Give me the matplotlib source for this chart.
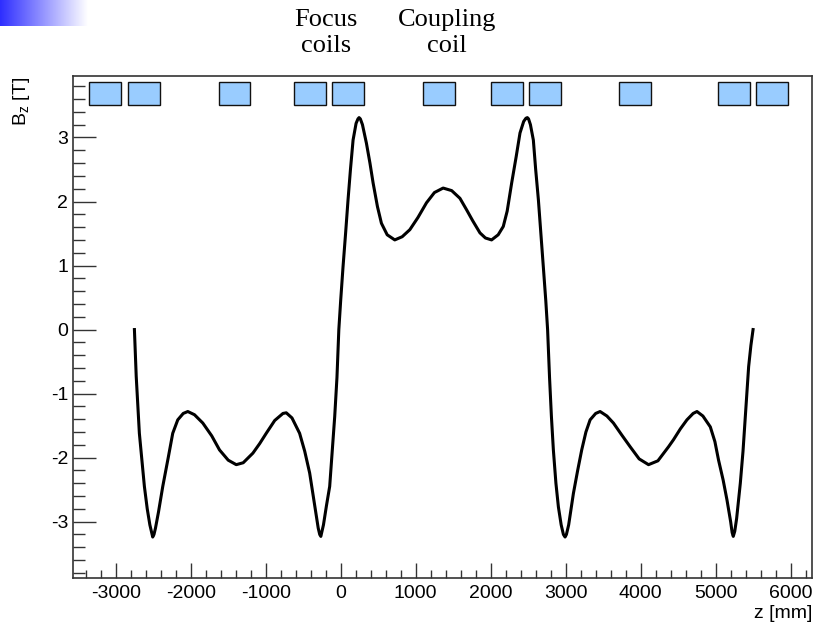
import numpy as np
import matplotlib
matplotlib.use('Agg')
import matplotlib.pyplot as plt
from matplotlib.patches import Rectangle
from matplotlib.ticker import MultipleLocator

plt.rcParams['font.family'] = ['Liberation Sans', 'DejaVu Sans']
plt.rcParams['mathtext.fontset'] = 'custom'
plt.rcParams['mathtext.rm'] = 'Liberation Sans'
plt.rcParams['mathtext.it'] = 'Liberation Sans'
plt.rcParams['axes.unicode_minus'] = False

# field on axis (z in mm, Bz in T)
z_mm = [-2751, -2740, -2727, -2705, -2685, -2650, -2618, -2580, -2545, -2520,
        -2507, -2490, -2470, -2430, -2373, -2300, -2240, -2173, -2100, -2039,
        -1950, -1839, -1720, -1616, -1500, -1393, -1300, -1171, -1080, -993,
        -880, -770, -726, -650, -548, -480, -414, -340, -300, -280,
        -265, -230, -190, -147, -110, -80, -50, -25, 0, 31,
        65, 98, 130, 165, 205, 230, 245, 262, 290, 343,
        390, 432, 490, 543, 620, 721, 820, 922, 1030, 1144,
        1250, 1366, 1480, 1590, 1679, 1760, 1857, 1930, 2012, 2100,
        2168, 2220, 2280, 2340, 2391, 2440, 2470, 2489, 2505, 2530,
        2569, 2600, 2636, 2670, 2702, 2735, 2759, 2785, 2810, 2836,
        2870, 2903, 2940, 2970, 2992, 3010, 3040, 3103, 3160, 3214,
        3270, 3326, 3400, 3459, 3550, 3637, 3750, 3860, 3980, 4105,
        4230, 4372, 4438, 4530, 4617, 4700, 4751, 4830, 4929, 4990,
        5039, 5100, 5151, 5200, 5220, 5235, 5255, 5280, 5329, 5365,
        5396, 5420, 5440, 5470, 5499]
bz_t = [0.0, -0.35, -0.73, -1.2, -1.62, -2.05, -2.45, -2.8, -3.05, -3.18,
        -3.24, -3.2, -3.1, -2.85, -2.45, -2.0, -1.62, -1.41, -1.31, -1.28,
        -1.33, -1.46, -1.66, -1.88, -2.04, -2.11, -2.08, -1.93, -1.78, -1.62,
        -1.42, -1.31, -1.30, -1.38, -1.62, -1.90, -2.24, -2.80, -3.1, -3.2,
        -3.23, -3.05, -2.75, -2.45, -1.85, -1.36, -0.75, 0.0, 0.46, 0.98,
        1.5, 2.03, 2.5, 2.96, 3.22, 3.29, 3.31, 3.29, 3.2, 2.91,
        2.6, 2.29, 1.92, 1.66, 1.48, 1.40, 1.45, 1.56, 1.75, 1.98,
        2.14, 2.21, 2.17, 2.05, 1.87, 1.70, 1.51, 1.43, 1.40, 1.48,
        1.61, 1.85, 2.29, 2.7, 3.07, 3.25, 3.30, 3.31, 3.29, 3.2,
        2.96, 2.5, 2.03, 1.5, 0.98, 0.45, 0.0, -0.75, -1.36, -1.88,
        -2.4, -2.77, -3.05, -3.2, -3.24, -3.2, -3.05, -2.56, -2.2, -1.88,
        -1.6, -1.41, -1.31, -1.28, -1.35, -1.46, -1.65, -1.83, -2.02, -2.11,
        -2.05, -1.83, -1.72, -1.55, -1.41, -1.31, -1.28, -1.35, -1.52, -1.75,
        -2.04, -2.35, -2.66, -3.0, -3.17, -3.23, -3.15, -2.95, -2.40, -1.9,
        -1.36, -0.95, -0.58, -0.25, 0.0]

# coil blocks drawn along the top (z start / end in mm)
coil_start = [-3352, -2841, -1629, -624, -116, 1099, 2000, 2511, 3717, 5031, 5534]
coil_end = [-2925, -2414, -1215, -197, 311, 1520, 2427, 2938, 4144, 5458, 5961]
coil_bottom, coil_top = 3.51, 3.866

fig = plt.figure(figsize=(8.17, 6.22), dpi=100)

# blue fade in the top left corner
grad = fig.add_axes([0, 1 - 26 / 622, 88 / 817, 26 / 622])
ramp = np.linspace(0, 1, 200)
rgb = np.zeros((2, 200, 3))
rgb[..., 0] = 0.18 + 0.82 * ramp
rgb[..., 1] = 0.18 + 0.82 * ramp
rgb[..., 2] = 1.0
grad.imshow(rgb, aspect='auto', interpolation='bilinear')
grad.axis('off')

ax = fig.add_axes([73 / 817, 1 - 578 / 622, (812 - 73) / 817, (578 - 76) / 622])
ax.plot(z_mm, bz_t, color='black', lw=2.2, solid_joinstyle='round')

for s, e in zip(coil_start, coil_end):
    ax.add_patch(Rectangle((s, coil_bottom), e - s, coil_top - coil_bottom,
                           facecolor='#99ccff', edgecolor='#111111', lw=1.0, zorder=3))

ax.set_xlim(-3570, 6285)
ax.set_ylim(-3.88, 3.96)
ax.xaxis.set_major_locator(MultipleLocator(1000))
ax.xaxis.set_minor_locator(MultipleLocator(200))
ax.yaxis.set_major_locator(MultipleLocator(1))
ax.yaxis.set_minor_locator(MultipleLocator(0.2))
ax.tick_params(axis='both', which='both', direction='in', top=False, right=False,
               labelsize=14, color='#333333', width=1.0)
ax.tick_params(axis='x', which='major', length=11, pad=5)
ax.tick_params(axis='x', which='minor', length=6)
ax.tick_params(axis='y', which='major', length=16.5, pad=3.5)
ax.tick_params(axis='y', which='minor', length=8.5)
for sp in ax.spines.values():
    sp.set_color('#333333')
    sp.set_linewidth(1.2)

fig.text(812 / 817, 1 - 613 / 622, 'z [mm]', ha='right', va='center', fontsize=14)
fig.text(21 / 817, 1 - 77 / 622, 'B$_z$ [T]', ha='center', va='top', rotation=90, fontsize=14)

fig.text(326 / 817, 1 - 33 / 622, 'Focus\ncoils', ha='center', va='center',
         family='Liberation Serif', fontsize=19, linespacing=1.25)
fig.text(447 / 817, 1 - 33 / 622, 'Coupling\ncoil', ha='center', va='center',
         family='Liberation Serif', fontsize=19, linespacing=1.25)

fig.savefig('out.png', dpi=100)
